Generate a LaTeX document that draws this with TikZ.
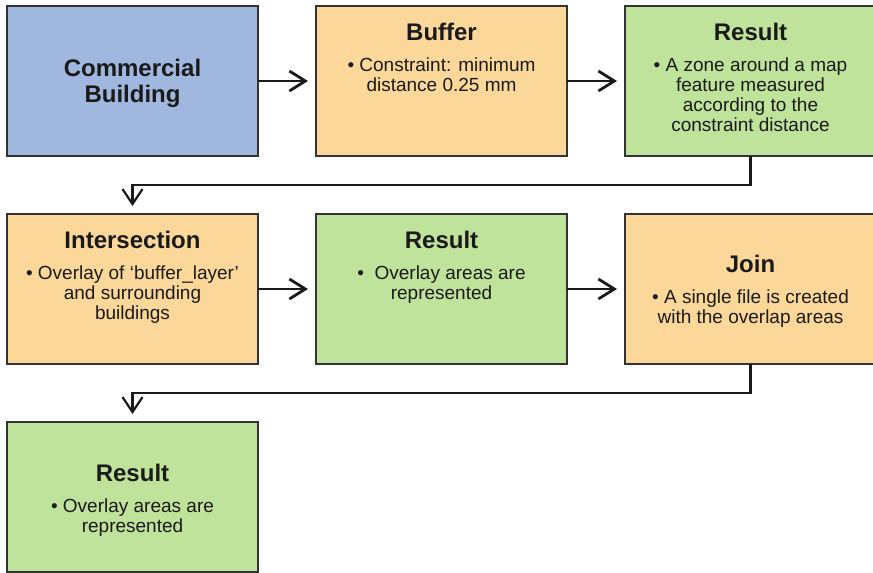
\documentclass[tikz,border=0pt]{standalone}
\usepackage{fontspec}
\setmainfont{Liberation Sans}
\usetikzlibrary{calc,arrows.meta}
\definecolor{bldblue}{HTML}{A0B7DF}
\definecolor{stepsand}{HTML}{FBD899}
\definecolor{outgreen}{HTML}{BFE39B}
\definecolor{inkgrey}{HTML}{1A1A1A}
\definecolor{edgegrey}{HTML}{333333}
\tikzset{every node/.style={text=inkgrey},
  box/.style={draw=edgegrey,line width=1.5pt,minimum width=251pt,
    minimum height=150pt,inner sep=0pt,outer sep=0pt},
  headtext/.style={font=\fontsize{24}{26}\selectfont\bfseries,inner sep=0pt,
    align=center},
  bodytext/.style={font=\fontsize{19}{20}\selectfont,inner sep=0pt,
    align=center,anchor=north},
  flow/.style={draw=inkgrey,line width=2.8pt,
    -{Straight Barb[length=16pt,width=20pt]}},
  turn/.style={draw=inkgrey,line width=2.2pt,
    -{Straight Barb[length=15pt,width=20pt]}}}

\begin{document}
\begin{tikzpicture}[x=1pt,y=-1pt]
  \useasboundingbox (0,0) rectangle (873,573);
  \foreach \n/\x/\y/\c in {building/132.5/81/bldblue,buffer/441.5/81/stepsand,
      zone/750.5/81/outgreen,inter/132.5/289/stepsand,overlay/441.5/289/outgreen,
      join/750.5/289/stepsand,final/132.5/497/outgreen}
    \node[box,fill=\c] (\n) at (\x,\y) {};
  % box texts
  \node[headtext] (building-t) at ($(building)+(0,2)$) {Commercial\\Building};
  \foreach \n/\t/\dt/\db/\body in {buffer/Buffer/34/52/{• Constraint: minimum\\distance 0.25 mm},
      zone/Result/34/52/{• A zone around a map\\feature measured\\according to the\\constraint distance},
      inter/Intersection/34/52/{• Overlay of ‘buffer\_layer’\\and surrounding\\buildings},
      overlay/Result/34/52/{•~ Overlay areas are\\represented},
      join/Join/58.6/76/{• A single file is created\\with the overlap areas},
      final/Result/59.6/77/{• Overlay areas are\\represented}} {
    \node[headtext,anchor=base] (\n-t) at ($(\n.north)+(0,\dt)$) {\t};
    \node[bodytext] (\n-b) at ($(\n.north)+(0,\db)$) {\body};
  }
  % connectors
  \draw[flow] (building.east) -- ([xshift=-8pt]buffer.west);
  \draw[flow] (buffer.east) -- ([xshift=-8pt]zone.west);
  \draw[flow] (inter.east) -- ([xshift=-8pt]overlay.west);
  \draw[flow] (overlay.east) -- ([xshift=-8pt]join.west);
  \draw[turn] (zone.south) -- ++(0,29) -| ([yshift=8pt]inter.north);
  \draw[turn] (join.south) -- ++(0,29) -| ([yshift=8pt]final.north);
\end{tikzpicture}
\end{document}
